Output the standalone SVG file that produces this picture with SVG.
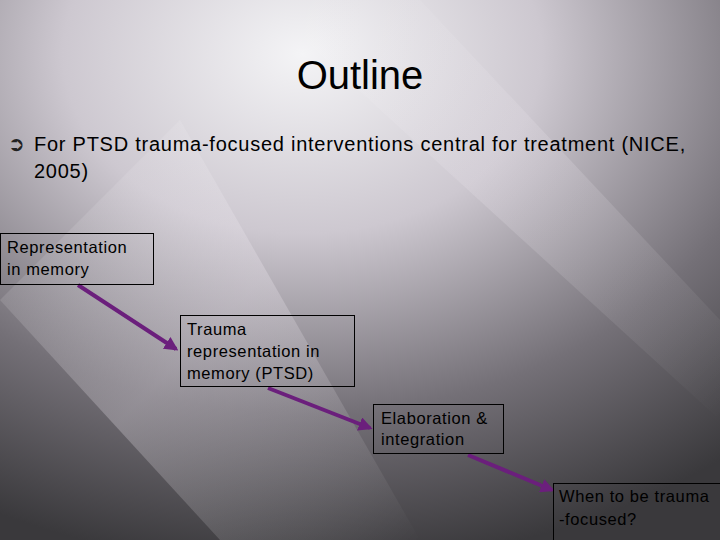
<svg xmlns="http://www.w3.org/2000/svg" width="720" height="540" viewBox="0 0 720 540">
<defs>
<radialGradient id="bg" cx="0.42" cy="0.1" r="0.95">
<stop offset="0" stop-color="#f4f4f6"/>
<stop offset="0.35" stop-color="#cdc8d0"/>
<stop offset="0.7" stop-color="#747077"/>
<stop offset="1" stop-color="#3a393c"/>
</radialGradient>
<linearGradient id="streak" x1="0" y1="0" x2="1" y2="1">
<stop offset="0" stop-color="#fff" stop-opacity="0"/>
<stop offset="0.5" stop-color="#f4eef6" stop-opacity="0.45"/>
<stop offset="1" stop-color="#fff" stop-opacity="0"/>
</linearGradient>
<marker id="ah" viewBox="0 0 10 10" refX="8" refY="5" markerWidth="3.5" markerHeight="3.5" orient="auto">
<path d="M0,0 L10,5 L0,10 z" fill="#6b1f7c"/>
</marker>
<style>
.box{fill:none;stroke:#000;stroke-width:1}
.t{font-family:"Liberation Sans",Arial,sans-serif;font-size:16.5px;letter-spacing:0.6px;fill:#000}
.c{stroke:#6b1f7c;stroke-width:4;fill:none;marker-end:url(#ah)}
</style>
</defs>
<rect width="720" height="540" fill="url(#bg)"/>
<polygon points="0,300 180,120 420,540 220,540" fill="url(#streak)" opacity="0.6"/>
<polygon points="260,0 420,0 720,320 720,420" fill="url(#streak)" opacity="0.4"/>
<text x="360" y="89" text-anchor="middle" font-family="Liberation Sans,Arial,sans-serif" font-size="40" fill="#000">Outline</text>
<text x="8" y="151" font-family="DejaVu Sans,sans-serif" font-size="20" fill="#222">➲</text>
<text font-family="Liberation Sans,Arial,sans-serif" font-size="20" letter-spacing="0.75" fill="#000"><tspan x="34" y="151">For PTSD trauma-focused interventions central for treatment (NICE,</tspan><tspan x="34" y="178">2005)</tspan></text>
<g id="connectors">
<line class="c" x1="78" y1="285" x2="176" y2="349"/>
<line class="c" x1="268" y1="388" x2="370" y2="428"/>
<line class="c" x1="468" y1="455" x2="552" y2="490"/>
</g>
<g id="n1"><rect class="box" x="0.5" y="233.5" width="153" height="51"/><text class="t"><tspan x="7" y="253">Representation</tspan><tspan x="7" y="275">in memory</tspan></text></g>
<g id="n2"><rect class="box" x="180.5" y="315.5" width="174" height="71"/><text class="t"><tspan x="187" y="335">Trauma</tspan><tspan x="187" y="357">representation in</tspan><tspan x="187" y="379">memory (PTSD)</tspan></text></g>
<g id="n3"><rect class="box" x="373.5" y="404.5" width="130" height="49"/><text class="t"><tspan x="381" y="424">Elaboration &amp;</tspan><tspan x="381" y="445">integration</tspan></text></g>
<g id="n4"><rect class="box" x="553.5" y="483.5" width="170" height="60"/><text class="t"><tspan x="559" y="502">When to be trauma</tspan><tspan x="559" y="525">-focused?</tspan></text></g>
</svg>
